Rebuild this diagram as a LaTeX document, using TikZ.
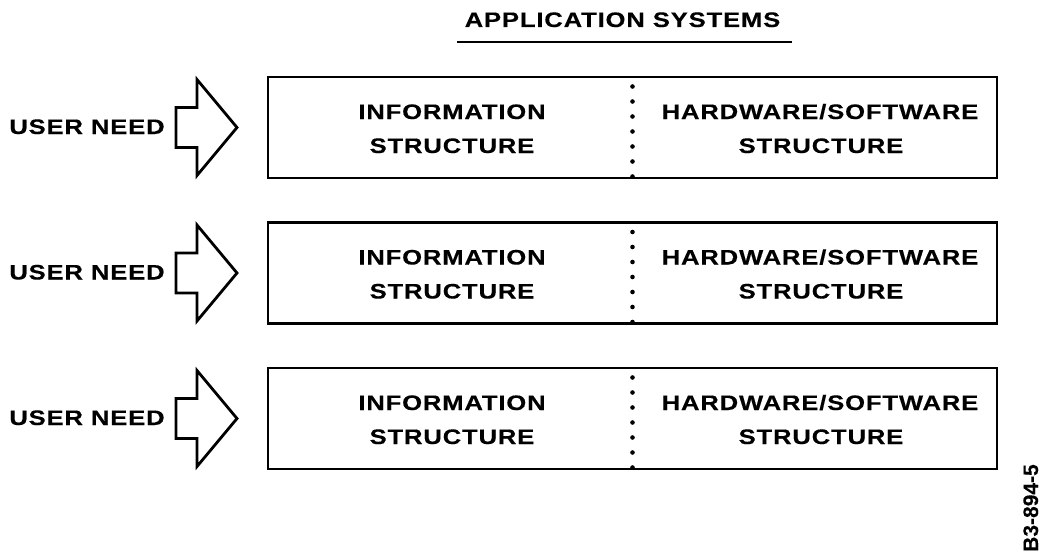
\documentclass[tikz,border=0pt]{standalone}
\usepackage{fontspec}
\newfontfamily\labelfont{Liberation Sans}[FakeStretch=1.22,LetterSpace=4,FakeBold=0.3]
\newfontfamily\fignofont{Liberation Sans}[FakeBold=0.3]
\begin{document}
\begin{tikzpicture}[x=1pt,y=-1pt,
  every node/.style={inner sep=0pt,font=\labelfont\bfseries\fontsize{21}{25}\selectfont},
  sysbox/.style={draw,line width=2.9pt,minimum width=729pt,minimum height=101pt,inner sep=0pt},
  arrowline/.style={draw,line width=2.8pt,line join=miter},
  sepdot/.style={fill=black},
  txt/.style={anchor=base},
  needarrow/.pic={\draw[arrowline] (-61,-20) -- (-40,-20) -- (-40,-48) -- (0,0)
      -- (-40,48) -- (-40,20) -- (-61,20) -- cycle;}]
\useasboundingbox (0,0) rectangle (1044,554);

% heading with its rule
\node[txt] (title) at (622.5,27) {APPLICATION SYSTEMS};
\coordinate (ruleL) at (457,42);
\coordinate (ruleR) at (792,42);
\draw[line width=2.6pt] (ruleL) -- (ruleR);

% three rows: user need feeding an application system
\foreach \c [count=\i] in {127.5,273,418.5}{
  \node[txt] (need\i) at (87,\c+6.5) {USER NEED};
  \pic at (237,\c) {needarrow};
  \node[sysbox] (sys\i) at (632.5,\c) {};
  \node[txt] (info\i) at (452,\c-8.5) {INFORMATION};
  \node[txt] (infos\i) at (452,\c+25.5) {STRUCTURE};
  \node[txt] (hw\i) at (820,\c-8.5) {HARDWARE/SOFTWARE};
  \node[txt] (hws\i) at (821,\c+25.5) {STRUCTURE};
  \foreach \k in {0,...,6}
    \fill[sepdot] (632.5,\c-41+15*\k) circle (2.3);
}

% figure number
\node[txt,rotate=90,font=\fignofont\bfseries\fontsize{21}{25}\selectfont] (fig) at (1038,508) {B3-894-5};
\end{tikzpicture}
\end{document}
